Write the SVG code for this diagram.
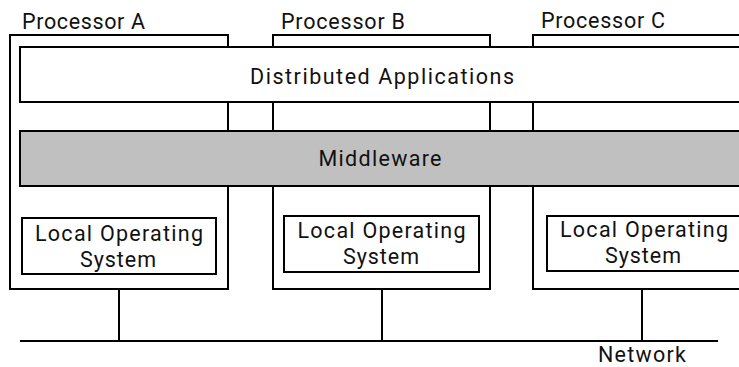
<svg xmlns="http://www.w3.org/2000/svg" width="739" height="367" viewBox="0 0 739 367">
<style>
.b{fill:#fff;stroke:#000;stroke-width:2}
.m{fill:#c0c0c0;stroke:#000;stroke-width:2}
.l{stroke:#000;stroke-width:2;fill:none}
text{font-family:Roboto,"Open Sans",sans-serif;font-size:21.5px;fill:#111}
.c{text-anchor:middle}
</style>
<rect width="739" height="367" fill="#fff"/>
<g id="procA"><rect class="b" x="10" y="35" width="218" height="254"/><text x="22" y="28.5" textLength="123">Processor A</text></g>
<g id="procB"><rect class="b" x="273" y="35" width="217" height="254"/><text x="281" y="28.5" textLength="124">Processor B</text></g>
<g id="procC"><rect class="b" x="533" y="35" width="220" height="254"/><text x="541" y="27.5" textLength="124">Processor C</text></g>
<g id="apps"><rect class="b" x="20" y="47" width="730" height="55"/><text class="c" x="382" y="83.5" textLength="264">Distributed Applications</text></g>
<g id="mw"><rect class="m" x="20" y="131" width="730" height="55"/><text class="c" x="380" y="166" textLength="123">Middleware</text></g>
<g id="losA"><rect class="b" x="22" y="218" width="194" height="56"/><text class="c"><tspan x="119" y="241" textLength="168">Local Operating</tspan><tspan x="118" y="267" textLength="76">System</tspan></text></g>
<g id="losB"><rect class="b" x="284" y="216" width="195" height="56"/><text class="c"><tspan x="381.5" y="238" textLength="168">Local Operating</tspan><tspan x="381" y="264" textLength="76">System</tspan></text></g>
<g id="losC"><rect class="b" x="547" y="216" width="200" height="55"/><text class="c"><tspan x="644" y="237" textLength="168">Local Operating</tspan><tspan x="643" y="263" textLength="76">System</tspan></text></g>
<g id="connectors">
<line class="l" x1="20" y1="341" x2="718" y2="341"/>
<line class="l" x1="119" y1="289" x2="119" y2="341"/>
<line class="l" x1="382" y1="289" x2="382" y2="341"/>
<line class="l" x1="642" y1="289" x2="642" y2="341"/>
</g>
<g id="network"><text class="c" x="642" y="361.5" textLength="88">Network</text></g>
</svg>
